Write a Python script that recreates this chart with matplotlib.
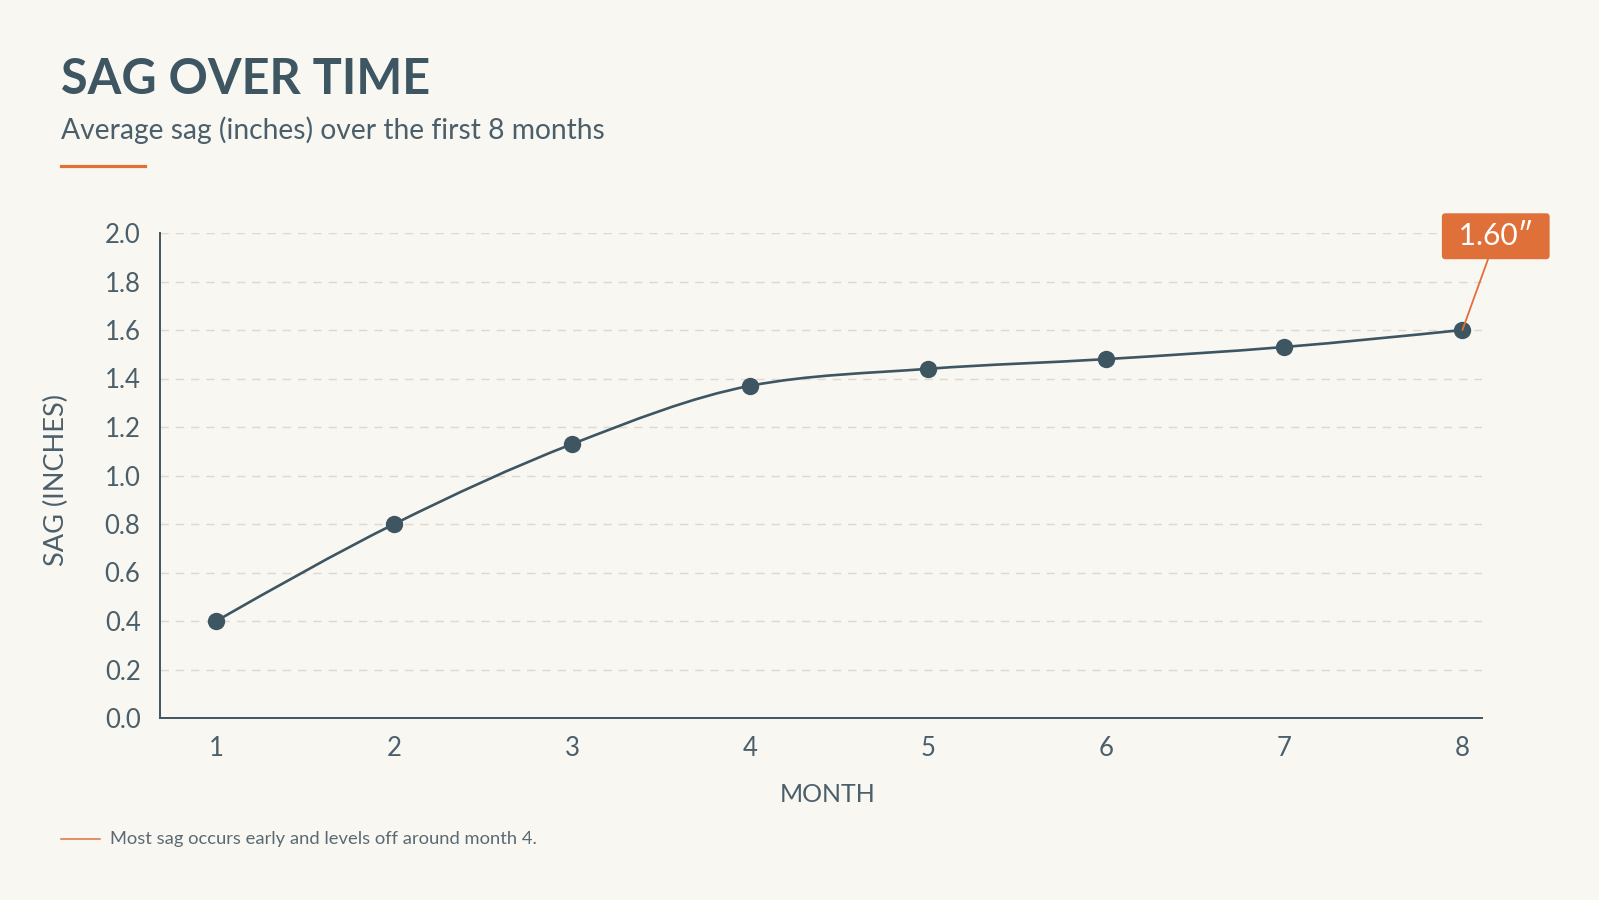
import matplotlib
matplotlib.use("Agg")
import matplotlib.pyplot as plt
from matplotlib.path import Path
from matplotlib.patches import PathPatch
from matplotlib.lines import Line2D
import numpy as np

# ---- data ----
months = [1, 2, 3, 4, 5, 6, 7, 8]
sag = [0.40, 0.80, 1.13, 1.37, 1.44, 1.48, 1.53, 1.60]
y_ticks = [0.0, 0.2, 0.4, 0.6, 0.8, 1.0, 1.2, 1.4, 1.6, 1.8, 2.0]
title = "SAG OVER TIME"
subtitle = "Average sag (inches) over the first 8 months"
x_label = "MONTH"
y_label = "SAG (INCHES)"
note = "Most sag occurs early and levels off around month 4."
callout = "1.60\u2033"

# ---- style ----
BG = "#f9f7f2"
INK = "#3e5562"
TXT = "#4b5f6a"
ORANGE = "#e0703a"
GRID = "#dcd8d2"

plt.rcParams['font.family'] = ['Lato', 'DejaVu Sans']

W, H = 1599, 900
fig = plt.figure(figsize=(W / 100, H / 100), dpi=100, facecolor=BG)

def fx(px):
    return px / W

def fy(py):
    return 1 - py / H

ax_l, ax_r, ax_t, ax_b = 160, 1482, 233, 718
ax = fig.add_axes([fx(ax_l), fy(ax_b), fx(ax_r - ax_l), (ax_b - ax_t) / H])
ax.set_facecolor(BG)

# monotone-x cubic path (d3 curveMonotoneX style) from data
x = np.array(months, dtype=float)
y = np.array(sag, dtype=float)
n = len(x)
h = np.diff(x)
s = np.diff(y) / h
t = np.zeros(n)
for i in range(1, n - 1):
    p = (s[i - 1] * h[i] + s[i] * h[i - 1]) / (h[i - 1] + h[i])
    t[i] = (np.sign(s[i - 1]) + np.sign(s[i])) * min(abs(s[i - 1]), abs(s[i]), 0.5 * abs(p))
t[0] = (3 * s[0] - t[1]) / 2
t[-1] = (3 * s[-1] - t[-2]) / 2
verts = [(x[0], y[0])]
codes = [Path.MOVETO]
for i in range(n - 1):
    dx = h[i] / 3
    verts += [(x[i] + dx, y[i] + dx * t[i]), (x[i + 1] - dx, y[i + 1] - dx * t[i + 1]), (x[i + 1], y[i + 1])]
    codes += [Path.CURVE4] * 3
ax.add_patch(PathPatch(Path(verts, codes), facecolor='none', edgecolor=INK, lw=1.9,
                       capstyle='round', joinstyle='round', zorder=3))
ax.plot(months, sag, linestyle='none', marker='o', markersize=12.5, color=INK,
        markeredgewidth=0, zorder=4)

ax.set_xlim(0.684, 8.11)
ax.set_ylim(0, 2.0)
ax.set_yticks(y_ticks)
ax.set_yticklabels([f"{v:.1f}" for v in y_ticks])
ax.set_xticks(months)
ax.set_xticklabels([str(m) for m in months])
ax.tick_params(axis='both', length=0, labelsize=18.5, labelcolor=TXT)
ax.tick_params(axis='y', pad=14)
ax.tick_params(axis='x', pad=13)

for v in y_ticks[1:]:
    ax.axhline(v, color=GRID, lw=1.0, dashes=(6, 5), zorder=1)

for side in ['top', 'right']:
    ax.spines[side].set_visible(False)
for side in ['left', 'bottom']:
    ax.spines[side].set_color(INK)
    ax.spines[side].set_linewidth(1.4)

# callout
ax.annotate(" " + callout + " ", xy=(months[-1], sag[-1]), xytext=(24, 67.5), textcoords='offset points',
            ha='center', va='center', fontsize=21.5, color='white',
            bbox=dict(boxstyle='round,pad=0.3,rounding_size=0.12', fc=ORANGE, ec='none'),
            arrowprops=dict(arrowstyle='-', color=ORANGE, lw=1.3, relpos=(0.45, 0.0),
                            shrinkA=0, shrinkB=0),
            zorder=5, annotation_clip=False)

# titles and text
fig.text(fx(61), fy(94), title, fontsize=35, fontweight='bold', color=INK, va='baseline', ha='left')
fig.text(fx(61), fy(139), subtitle, fontsize=20.3, color=TXT, va='baseline', ha='left')
fig.add_artist(Line2D([fx(61), fx(145)], [fy(166), fy(166)], color=ORANGE, lw=2.3))

fig.text(fx(56), fy(480), y_label, rotation=90, fontsize=19.5, color=TXT, ha='center', va='center')
fig.text(fx(828), fy(795), x_label, fontsize=18, color=TXT, ha='center', va='center')

fig.add_artist(Line2D([fx(61), fx(100)], [fy(839), fy(839)], color=ORANGE, lw=1.1))
fig.text(fx(110), fy(839), note, fontsize=13.2, color="#5a6a73", ha='left', va='center')

fig.savefig("out.png", dpi=100, facecolor=BG)
